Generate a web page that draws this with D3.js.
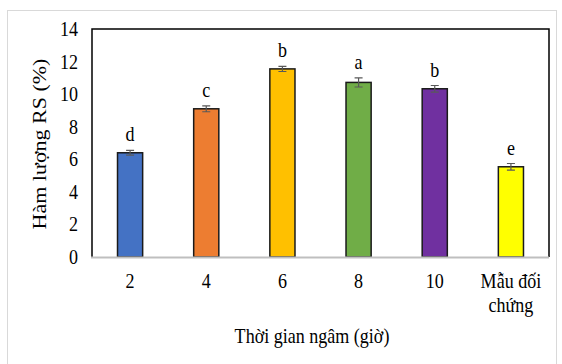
<!DOCTYPE html>
<html>
<head>
<meta charset="utf-8">
<script src="https://cdn.jsdelivr.net/npm/d3@7"></script>
<style>
  body { margin: 0; background: #fff; }
  svg text { font-family: "Liberation Serif", "Times New Roman", serif !important; fill: #000; }
</style>
</head>
<body>
<svg id="chart" width="562" height="364"></svg>
<script>
// data
const categories = ["2", "4", "6", "8", "10", "Mẫu đối chứng"];
const values = [6.4, 9.1, 11.55, 10.72, 10.33, 5.54];
const errors = [0.15, 0.18, 0.16, 0.28, 0.2, 0.2];
const letters = ["d", "c", "b", "a", "b", "e"];
const colors = ["#4472c4", "#ed7d31", "#ffc000", "#70ad47", "#7030a0", "#ffff00"];
const yTicks = [0, 2, 4, 6, 8, 10, 12, 14];

const svg = d3.select("#chart");
const fs = 22, sx = 0.82; // the picture is squeezed sideways

// outer frame
svg.append("rect")
  .attr("x", 7.5).attr("y", 10.5)
  .attr("width", 549).attr("height", 360)
  .attr("fill", "none").attr("stroke", "#d9d9d9");

const pLeft = 92, pRight = 549, pTop = 29, pBottom = 257;

let x = d3.scaleBand().domain(categories).range([pLeft, pRight]).paddingInner(0.67).paddingOuter(0.335);
let y = d3.scaleLinear().domain([0, 14]).range([pBottom, pTop]);
let cx = c => x(c) + x.bandwidth() / 2;

// horizontal text squeezed by sx
function label(g, px, py, txt, anchor) {
  return g.append("text")
    .attr("transform", `translate(${px},${py}) scale(${sx},1)`)
    .attr("text-anchor", anchor || "middle")
    .attr("font-size", fs)
    .text(txt);
}

// plot border (top, left, right)
svg.append("path")
  .attr("d", `M${pLeft},${pBottom}V${pTop}H${pRight}V${pBottom}`)
  .attr("fill", "none").attr("stroke", "#000").attr("stroke-width", 1.5);

// y tick labels
let ya = svg.append("g");
yTicks.forEach(t => label(ya, pLeft - 14, y(t) + 7, t, "end"));

// bars
let idx = d3.range(categories.length);
svg.append("g").selectAll("rect").data(idx).enter()
  .append("rect")
  .attr("x", i => x(categories[i]))
  .attr("y", i => y(values[i]))
  .attr("width", x.bandwidth())
  .attr("height", i => y(0) - y(values[i]))
  .attr("fill", i => colors[i])
  .attr("stroke", "#1a1a1a")
  .attr("stroke-width", 1.5);

// x axis line
svg.append("line")
  .attr("x1", pLeft - 1).attr("x2", pRight)
  .attr("y1", pBottom + 0.5).attr("y2", pBottom + 0.5)
  .attr("stroke", "#bfbfbf").attr("stroke-width", 2);

// error bars
let eb = svg.append("g").attr("stroke", "#595959").attr("stroke-width", 1.2).attr("fill", "none");
idx.forEach(i => {
  let c = cx(categories[i]);
  let y1 = y(values[i] + errors[i]), y2 = y(values[i] - errors[i]);
  eb.append("path").attr("d", `M${c},${y1}V${y2}M${c - 4},${y1}H${c + 4}M${c - 4},${y2}H${c + 4}`);
});

// significance letters
let lg = svg.append("g");
idx.forEach(i => label(lg, cx(categories[i]), y(values[i] + errors[i]) - 9, letters[i]));

// x tick labels
let xg = svg.append("g");
idx.forEach(i => {
  if (i === 5) {
    label(xg, cx(categories[i]), 288, "Mẫu đối");
    label(xg, cx(categories[i]), 312, "chứng");
  } else {
    label(xg, cx(categories[i]), 288, categories[i]);
  }
});

// axis titles
label(svg, 312, 343, "Thời gian ngâm (giờ)");

svg.append("text")
  .attr("transform", `translate(46,144) rotate(-90) scale(1,${sx})`)
  .attr("text-anchor", "middle")
  .attr("font-size", fs)
  .text("Hàm lượng RS (%)");
</script>
</body>
</html>
